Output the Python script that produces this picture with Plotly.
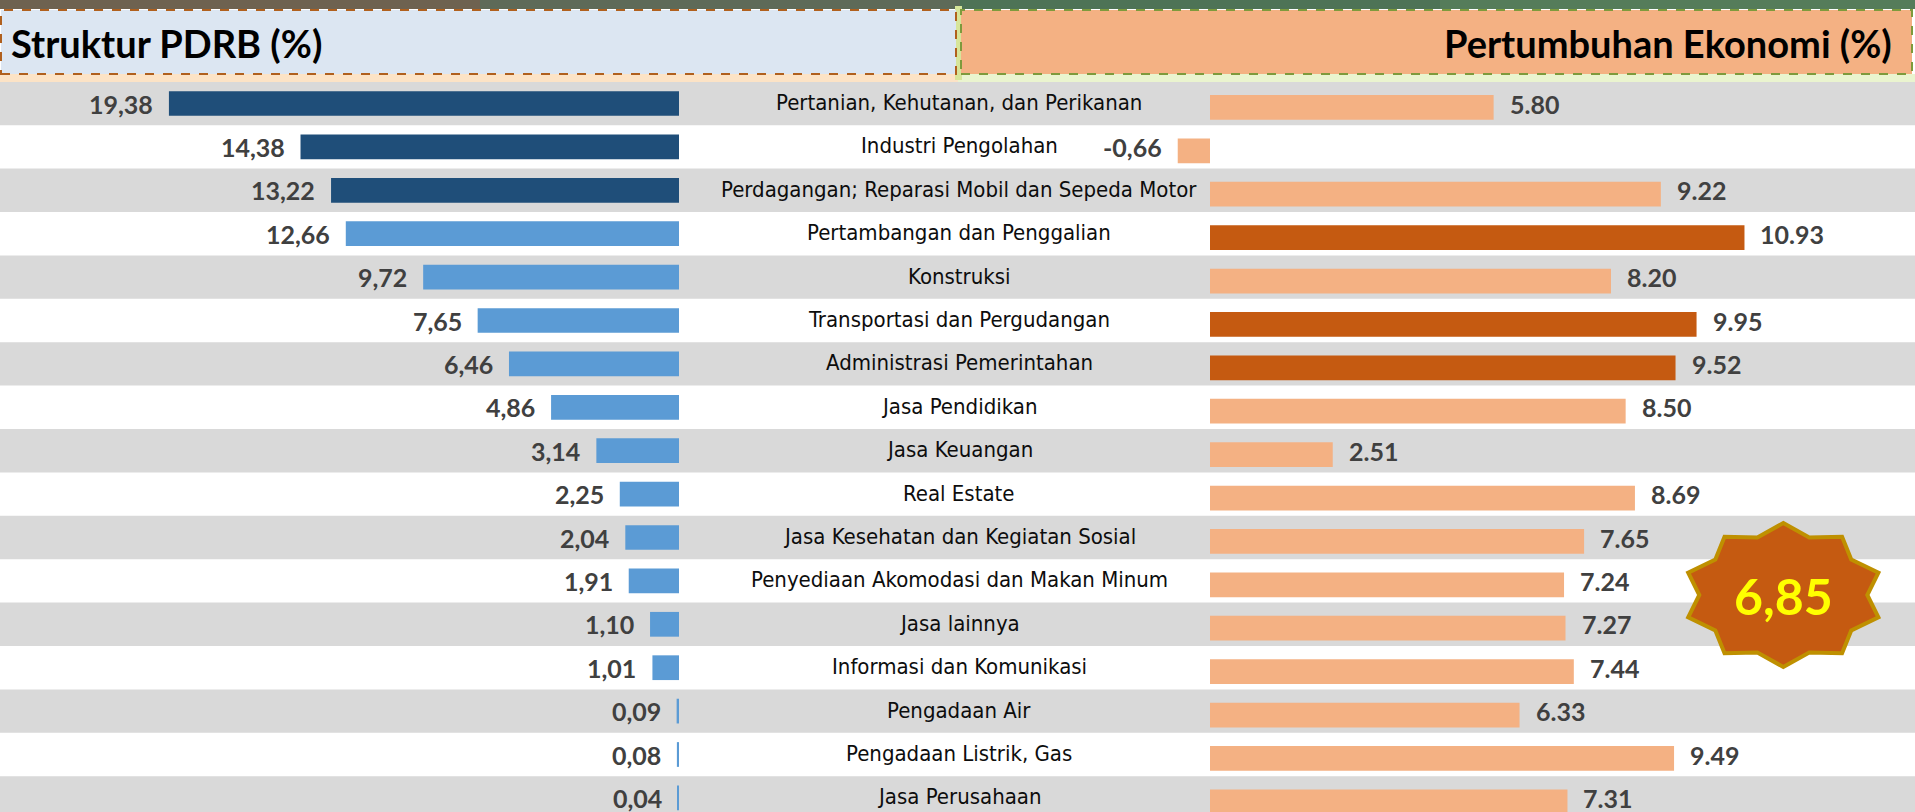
import math
import plotly.graph_objects as go

# ---------------- data ----------------
categories = [
    "Pertanian, Kehutanan, dan Perikanan",
    "Industri Pengolahan",
    "Perdagangan; Reparasi Mobil dan Sepeda Motor",
    "Pertambangan dan Penggalian",
    "Konstruksi",
    "Transportasi dan Pergudangan",
    "Administrasi Pemerintahan",
    "Jasa Pendidikan",
    "Jasa Keuangan",
    "Real Estate",
    "Jasa Kesehatan dan Kegiatan Sosial",
    "Penyediaan Akomodasi dan Makan Minum",
    "Jasa lainnya",
    "Informasi dan Komunikasi",
    "Pengadaan Air",
    "Pengadaan Listrik, Gas",
    "Jasa Perusahaan",
]
struktur = [19.38, 14.38, 13.22, 12.66, 9.72, 7.65, 6.46, 4.86, 3.14, 2.25,
            2.04, 1.91, 1.10, 1.01, 0.09, 0.08, 0.04]
pertumbuhan = [5.80, -0.66, 9.22, 10.93, 8.20, 9.95, 9.52, 8.50, 2.51, 8.69,
               7.65, 7.24, 7.27, 7.44, 6.33, 9.49, 7.31]
struktur_highlight = [True, True, True] + [False] * 14
pertumbuhan_highlight = [False, False, False, True, False, True, True] + [False] * 10
title_left = "Struktur PDRB (%)"
title_right = "Pertumbuhan Ekonomi (%)"
total_growth = "6,85"

# ---------------- layout constants ----------------
W, H = 1915, 812
ROW0, ROWH = 103.5, 43.4          # pixel centre of first row, row pitch
L_ZERO, L_PPU = 679.0, 26.32      # left chart zero pixel and px/unit
R_ZERO, R_PPU = 1210.0, 48.9      # right chart zero pixel and px/unit
BAR_W = 0.57
R_OFF = 0.09                      # right chart bars sit slightly lower

DARK_BLUE, LIGHT_BLUE = "#1F4E79", "#5B9BD5"
DARK_OR, LIGHT_OR = "#C55A11", "#F4B183"
VAL_COL = "#404040"
VAL_FONT = dict(family="Lato, Open Sans, sans-serif", size=25, color=VAL_COL, weight="bold")
CAT_FONT = dict(family="Liberation Sans Narrow, DejaVu Sans Condensed, Roboto, sans-serif",
                size=22, color="#0D0D0D")
TITLE_FONT = dict(family="Lato, sans-serif", size=38, color="#000000", weight="bold")

n = len(categories)
ypos = list(range(n))

fig = go.Figure()
fig.add_trace(go.Bar(
    y=ypos, x=struktur, orientation="h", xaxis="x", yaxis="y",
    width=BAR_W, offset=-BAR_W / 2,
    marker=dict(color=[DARK_BLUE if h else LIGHT_BLUE for h in struktur_highlight],
                line=dict(width=0)),
    hoverinfo="skip", showlegend=False,
))
fig.add_trace(go.Bar(
    y=ypos, x=pertumbuhan, orientation="h", xaxis="x2", yaxis="y",
    width=BAR_W, offset=-BAR_W / 2 + R_OFF,
    marker=dict(color=[DARK_OR if h else LIGHT_OR for h in pertumbuhan_highlight],
                line=dict(width=0)),
    hoverinfo="skip", showlegend=False,
))

annotations = []
for i, (cat, s, p) in enumerate(zip(categories, struktur, pertumbuhan)):
    annotations.append(dict(
        x=s, xref="x", y=i, yref="y", text=f"{s:.2f}".replace(".", ","),
        xanchor="right", xshift=-14, showarrow=False, font=VAL_FONT))
    if p >= 0:
        annotations.append(dict(
            x=p, xref="x2", y=i, yref="y", text=f"{p:.2f}",
            xanchor="left", xshift=14, showarrow=False, font=VAL_FONT))
    else:
        annotations.append(dict(
            x=p, xref="x2", y=i, yref="y", text=f"{p:.2f}".replace(".", ","),
            xanchor="right", xshift=-14, showarrow=False, font=VAL_FONT))
    annotations.append(dict(
        x=959 / W, xref="paper", y=i, yref="y", text=cat, xanchor="center",
        yshift=1, showarrow=False, font=CAT_FONT))

# header titles
annotations.append(dict(x=9 / W, xref="paper", y=1 - 43 / H, yref="paper",
                        text=title_left, xanchor="left", yanchor="middle", showarrow=False,
                        font=TITLE_FONT))
annotations.append(dict(x=1894 / W, xref="paper", y=1 - 43 / H, yref="paper",
                        text=title_right, xanchor="right", yanchor="middle", showarrow=False,
                        font=TITLE_FONT))

# star badge
SX, SY, RX, RY, INNER = 1783.3, 595.0, 100.0, 72.0, 0.84
pts = []
for k in range(20):
    ang = math.radians(k * 18)
    f = 1.0 if k % 2 == 0 else INNER
    px = SX + RX * f * math.sin(ang)
    py = SY - RY * f * math.cos(ang)
    pts.append((px / W, 1 - py / H))
star_path = "M " + " L ".join(f"{x:.5f},{y:.5f}" for x, y in pts) + " Z"
annotations.append(dict(x=SX / W, xref="paper", y=1 - (SY + 1) / H, yref="paper",
                        text=total_growth, showarrow=False,
                        xanchor="center", yanchor="middle",
                        font=dict(family="Lato, Open Sans, sans-serif", size=50,
                                  color="#FFFF00", weight="bold")))


def px_rect(x0, y0, x1, y1, **kw):
    return dict(type="rect", xref="paper", yref="paper",
                x0=x0 / W, x1=x1 / W, y0=1 - y1 / H, y1=1 - y0 / H, **kw)


shapes = []
# zebra stripes
for i in range(0, n, 2):
    shapes.append(dict(type="rect", xref="paper", x0=0, x1=1, yref="y",
                       y0=i - 0.5, y1=i + 0.5, fillcolor="#D9D9D9",
                       line=dict(width=0), layer="below"))
# top texture strip
shapes.append(px_rect(0, 0, 480, 9, fillcolor="#6E6250", line=dict(width=0), layer="below"))
shapes.append(px_rect(480, 0, 960, 9, fillcolor="#5E6A58", line=dict(width=0), layer="below"))
shapes.append(px_rect(960, 0, 1440, 9, fillcolor="#4E7356", line=dict(width=0), layer="below"))
shapes.append(px_rect(1440, 0, W, 9, fillcolor="#557C5A", line=dict(width=0), layer="below"))
# glow under headers
shapes.append(px_rect(0, 74, 958, 82, fillcolor="#FCE3C6", line=dict(width=0), layer="below"))
shapes.append(px_rect(958, 74, W, 82, fillcolor="#EAF4CF", line=dict(width=0), layer="below"))
shapes.append(px_rect(955, 6, 962, 80, fillcolor="#D7E59A", line=dict(width=0), layer="below"))
# header boxes
shapes.append(px_rect(1, 10, 956, 74, fillcolor="#DCE6F2",
                      line=dict(color="#B0601E", width=2, dash="dash"), layer="below"))
shapes.append(px_rect(961, 10, 1912, 74, fillcolor="#F4B183",
                      line=dict(color="#7E9A3C", width=2, dash="dash"), layer="below"))
# star
shapes.append(dict(type="path", xref="paper", yref="paper", path=star_path,
                   fillcolor=DARK_OR, line=dict(color="#BF9000", width=4), layer="above"))

fig.update_layout(
    width=W, height=H,
    margin=dict(l=0, r=0, t=0, b=0),
    paper_bgcolor="white", plot_bgcolor="rgba(0,0,0,0)",
    barmode="overlay",
    xaxis=dict(domain=[0, 0.5], range=[L_ZERO / L_PPU, -(W * 0.5 - L_ZERO) / L_PPU],
               visible=False, fixedrange=True),
    xaxis2=dict(domain=[0.5, 1], anchor="y",
                range=[-(R_ZERO - W * 0.5) / R_PPU, (W - R_ZERO) / R_PPU],
                visible=False, fixedrange=True),
    yaxis=dict(range=[(H - ROW0) / ROWH, -ROW0 / ROWH], visible=False, fixedrange=True),
    shapes=shapes,
    annotations=annotations,
)

fig.write_html("out.html", config={"displayModeBar": False},
               post_script="document.body.style.margin='0';document.body.style.overflow='hidden';")
